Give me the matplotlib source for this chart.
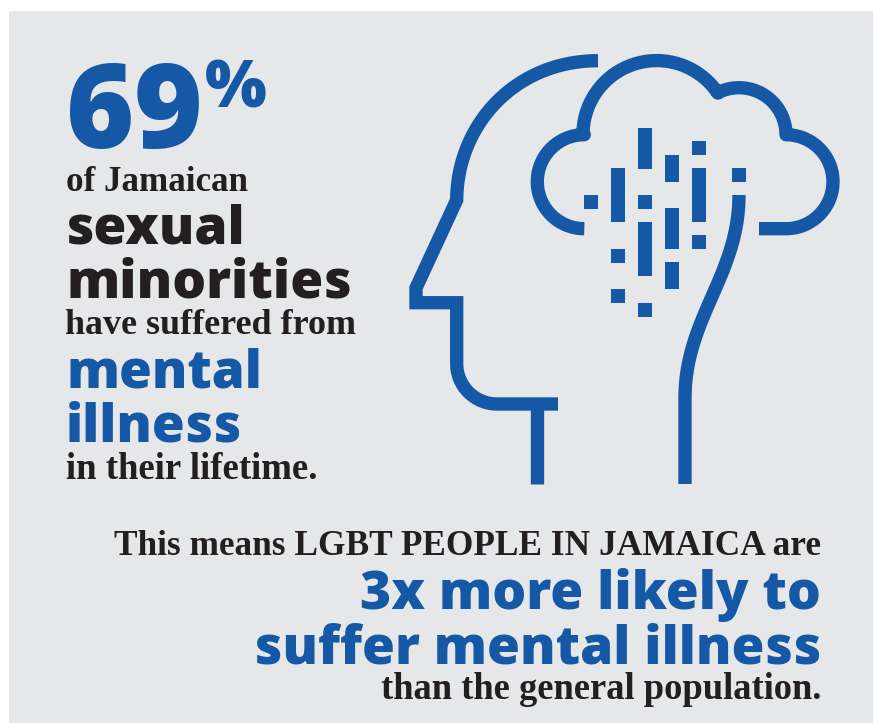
import numpy as np
import matplotlib
matplotlib.use("Agg")
import matplotlib.pyplot as plt
from matplotlib.path import Path
from matplotlib.patches import PathPatch, Rectangle

BLUE = "#1558A5"
DARK = "#231F20"
BG = "#E6E7E9"
SANS = "Open Sans"
SERIF = "Liberation Serif"

# text lines: string, x, baseline y, font size, font, colour
big_num = "69"
pct = "%"
left_lines = ["of Jamaican", "sexual", "minorities", "have suffered from",
              "mental", "illness", "in their lifetime."]
left_x = [66, 66, 66, 65, 66, 66, 66]
left_base = [191, 243, 297, 334, 388, 441, 479]
left_size = [25.2, 38.3, 38.3, 25.9, 38.2, 38.2, 26.5]
left_font = [SERIF, SANS, SANS, SERIF, SANS, SANS, SERIF]
left_col = [DARK, DARK, DARK, DARK, BLUE, BLUE, DARK]

right_lines = ["This means LGBT PEOPLE IN JAMAICA are", "3x more likely to",
               "suffer mental illness", "than the general population."]
right_base = [555, 609, 663, 699]
right_size = [25.4, 38.4, 38.3, 26.3]
right_font = [SERIF, SANS, SANS, SERIF]
right_col = [DARK, BLUE, BLUE, DARK]

# icon bars, x0 y0 x1 y1 in pixels of the picture
bars = [(638, 128, 652, 169), (665, 155, 679, 182), (692, 141, 706, 155),
        (611, 168, 625, 222), (692, 168, 706, 222), (732, 168, 746, 182),
        (584, 195, 598, 209), (638, 195, 652, 209), (665, 208, 679, 249),
        (638, 222, 652, 276), (692, 235, 706, 249), (611, 249, 625, 263),
        (665, 262, 679, 289), (611, 289, 625, 303), (638, 303, 652, 317)]


def arc(cx, cy, r, a0, a1, n=60):
    # angles in degrees, y axis points down
    t = np.radians(np.linspace(a0, a1, n))
    return np.column_stack([cx + r * np.cos(t), cy + r * np.sin(t)])


def bezier(p0, p1, p2, p3, n=60):
    t = np.linspace(0, 1, n)[:, None]
    p0, p1, p2, p3 = map(np.array, (p0, p1, p2, p3))
    return (1 - t) ** 3 * p0 + 3 * (1 - t) ** 2 * t * p1 + 3 * (1 - t) * t ** 2 * p2 + t ** 3 * p3


fig = plt.figure(figsize=(8.73, 7.23), dpi=100)
ax = fig.add_axes([0, 0, 1, 1])
ax.set_xlim(0, 873)
ax.set_ylim(723, 0)
ax.axis("off")

ax.add_patch(Rectangle((9, 11), 864, 712, fc=BG, ec="none"))


def stroke(pts, join="round"):
    pts = np.asarray(pts)
    p = PathPatch(Path(pts), fill=False, ec=BLUE, lw=9.6, capstyle="butt", joinstyle=join)
    ax.add_patch(p)


# head outline
skull = bezier((598, 60.7), (515, 60.7), (457, 125), (456.7, 200))
face = [(456.7, 200), (416, 288), (416, 302.7), (456.7, 302.7), (456.7, 363)]
jaw = arc(497, 363.7, 40.3, 180, 90)
stroke(np.vstack([skull, face, jaw, [(558, 404)]]), join="miter")
stroke([(537, 404), (537, 484)])

neck = bezier((685, 398), (685, 318), (739, 275), (739, 195))
stroke(np.vstack([[(685, 484)], neck]))

# cloud
c1 = arc(584.3, 181.7, 47, 90, 270)
c2 = arc(656.7, 134.3, 73.7, 180, 326)
c3 = arc(739, 134.7, 47, 243, 360)
c4 = arc(786, 181.7, 47, -90, 90)
stroke(np.vstack([c1, c2, c3, c4, [(759, 228.7)]]))

for x0, y0, x1, y1 in bars:
    ax.add_patch(Rectangle((x0, y0), x1 - x0, y1 - y0, fc=BLUE, ec="none"))

# headline number
ax.text(66, 148, big_num, fontsize=84, family=SANS, weight=800, color=BLUE, va="baseline")
ax.text(205, 108, pct, fontsize=47, family=SANS, weight=800, color=BLUE, va="baseline")

for s, x, y, fs, fam, col in zip(left_lines, left_x, left_base, left_size, left_font, left_col):
    ax.text(x, y, s, fontsize=fs, family=fam, color=col, va="baseline",
            weight=800 if fam == SANS else "bold")

for s, y, fs, fam, col in zip(right_lines, right_base, right_size, right_font, right_col):
    ax.text(821, y, s, fontsize=fs, family=fam, color=col, va="baseline", ha="right",
            weight=800 if fam == SANS else "bold")

fig.savefig("out.png", dpi=100, facecolor="white")
